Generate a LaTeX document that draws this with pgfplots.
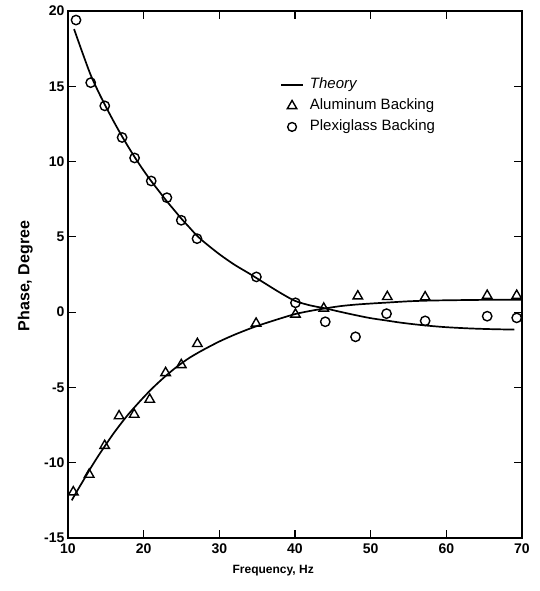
\documentclass[border=0pt]{standalone}
\usepackage{fontspec}
\setmainfont{Liberation Sans}
\usepackage{pgfplots}
\pgfplotsset{compat=1.18}
\begin{document}
\begin{tikzpicture}
\path[use as bounding box] (-68pt,-53pt) rectangle (471pt,538pt);
\begin{axis}[
  at={(0pt,0pt)}, anchor=south west,
  scale only axis, width=454pt, height=527pt,
  xmin=10, xmax=70, ymin=-15, ymax=20,
  xtick={10,20,...,70}, ytick={-15,-10,...,20},
  tick align=inside, tick pos=both,
  major tick length=8pt,
  axis line style={line width=1.5pt},
  every tick/.style={line width=1.2pt, black},
  /pgf/number format/assume math mode=true,
  ticklabel style={font=\bfseries\fontsize{14}{16}\selectfont},
  xticklabel style={yshift=-2pt},
  xlabel={\bfseries Frequency, Hz},
  ylabel={\bfseries Phase, Degree},
  xlabel style={font=\fontsize{12}{14}\selectfont, at={(axis description cs:0.452,-0.0626)}, anchor=center},
  ylabel style={font=\fontsize{16}{18}\selectfont, at={(axis description cs:-0.094,0.497)}, anchor=center, rotate=0},
  clip mode=individual,
  legend style={draw=none, fill=none, at={(axis description cs:0.467,0.880)}, anchor=north west, inner sep=0pt,
    font=\fontsize{15}{18}\selectfont,
    nodes={inner ysep=3pt, inner xsep=2pt, text height=11pt, text depth=4pt},
    column sep=4pt},
  legend cell align=left,
]
% Theory, plexiglass backing
\addplot[black, line width=1.7pt, smooth,
  legend image code/.code={\draw[black, line width=1.7pt] (-1pt,0pt) -- (21pt,0pt);}]
coordinates {
(10.8,18.8) (12,17.1) (13,15.75) (14,14.65) (15,13.65) (16,12.7) (17,11.8) (18,10.95)
(19,10.15) (20,9.4) (21,8.7) (22,8.05) (23,7.4) (24,6.8) (25,6.2) (26,5.65) (27,5.1)
(28,4.65) (30,3.85) (32,3.15) (34,2.55) (36,1.92) (38,1.3) (40,0.75) (42,0.45) (44,0.25)
(46,0.02) (48,-0.2) (50,-0.4) (52,-0.55) (54,-0.7) (56,-0.82) (58,-0.92) (60,-1.0)
(63,-1.08) (66,-1.13) (69,-1.16)
};
\addlegendentry{\textit{Theory}}
% Theory, aluminum backing
\addplot[black, line width=1.7pt, smooth, forget plot]
coordinates {
(10.5,-12.5) (11,-12.05) (12,-11.2) (13,-10.35) (14,-9.55) (15,-8.8) (16,-8.07) (17,-7.4)
(18,-6.77) (19,-6.2) (20,-5.65) (21,-5.13) (22,-4.65) (23,-4.2) (24,-3.78) (25,-3.4)
(26,-3.05) (27,-2.75) (28,-2.47) (30,-1.95) (32,-1.5) (34,-1.1) (35,-0.92) (36,-0.75)
(38,-0.43) (40,-0.13) (42,0.08) (44,0.25) (46,0.4) (48,0.5) (50,0.57) (52,0.63)
(55,0.72) (58,0.77) (62,0.8) (66,0.82) (70,0.82)
};
% Aluminum backing data
\addplot[only marks, mark=triangle, mark size=5.5pt, mark options={line width=1.4pt, black},
  legend image code/.code={\draw[mark options={line width=1.4pt, black}] plot[mark=triangle, mark size=5.5pt] coordinates {(10pt,0pt)};}]
coordinates {
(10.7,-11.95) (12.8,-10.78) (14.85,-8.87) (16.75,-6.9) (18.75,-6.8) (20.8,-5.8)
(22.9,-4.03) (24.97,-3.5) (27.1,-2.1) (34.86,-0.75) (40.06,-0.15) (43.8,0.25)
(48.3,1.06) (52.2,1.02) (57.2,1.0) (65.4,1.1) (69.3,1.1)
};
\addlegendentry{Aluminum Backing}
% Plexiglass backing data
\addplot[only marks, mark=o, mark size=4.7pt, mark options={line width=1.4pt, black},
  legend image code/.code={\draw[mark options={line width=1.4pt, black}] plot[mark=o, mark size=4.4pt] coordinates {(10pt,0pt)};}]
coordinates {
(11.06,19.4) (13.0,15.24) (14.86,13.7) (17.15,11.6) (18.8,10.24) (21.0,8.71)
(23.07,7.6) (24.97,6.1) (27.05,4.88) (34.9,2.34) (40.06,0.62) (44.0,-0.64)
(48.0,-1.64) (52.1,-0.1) (57.2,-0.58) (65.4,-0.27) (69.3,-0.38)
};
\addlegendentry{Plexiglass Backing}
\end{axis}
\end{tikzpicture}
\end{document}
